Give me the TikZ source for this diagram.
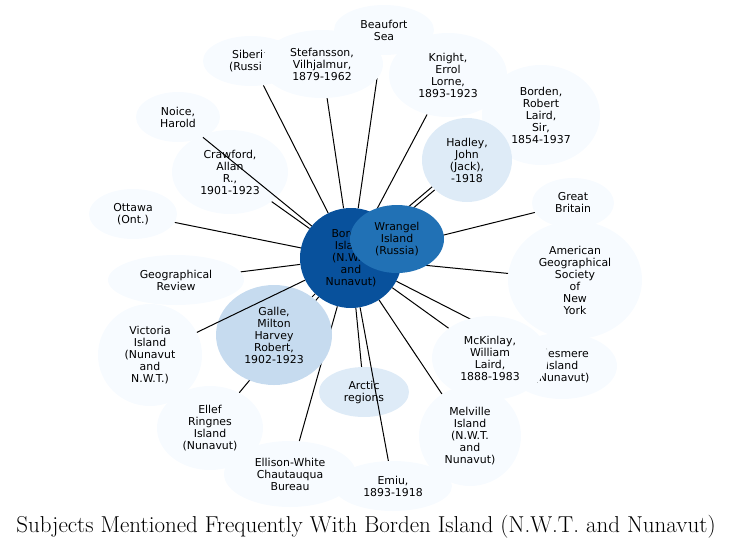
\documentclass[tikz,border=0pt]{standalone}
\usepackage{fontspec}
\newfontfamily\dv{DejaVu Sans}
\usetikzlibrary{shapes.geometric,backgrounds}
\definecolor{b0}{HTML}{F7FBFF}
\definecolor{b1}{HTML}{DEEBF7}
\definecolor{b2}{HTML}{C6DBEF}
\definecolor{b5}{HTML}{2171B5}
\definecolor{b6}{HTML}{08519C}
\tikzset{
  vnode/.style={ellipse, inner sep=0pt, align=center, draw=none,
    font=\dv\fontsize{10.9}{12}\selectfont, text=black},
  lnk/.style={line width=1pt, black}
}
\begin{document}
\begin{tikzpicture}[x=1pt,y=-1pt]
\useasboundingbox (0,0) rectangle (732,547);
% nodes
\node[vnode, fill=b0, minimum width=100, minimum height=50] (beaufort) at (384,30) {Beaufort\\Sea};
\node[vnode, fill=b0, minimum width=96, minimum height=50] (siberia) at (251,61) {Siberia\\(Russia)};
\node[vnode, fill=b0, minimum width=122, minimum height=68] (stef) at (322,64) {Stefansson,\\Vilhjalmur,\\1879-1962};
\node[vnode, fill=b0, minimum width=118, minimum height=100] (robborden) at (541,115) {Borden,\\Robert\\Laird,\\Sir,\\1854-1937};
\node[vnode, fill=b0, minimum width=118, minimum height=84] (knight) at (448,75) {Knight,\\Errol\\Lorne,\\1893-1923};
\node[vnode, fill=b1, minimum width=90, minimum height=84] (hadley) at (467,160) {Hadley,\\John\\(Jack),\\-1918};
\node[vnode, fill=b0, minimum width=84, minimum height=50] (noice) at (178,117) {Noice,\\Harold};
\node[vnode, fill=b0, minimum width=116, minimum height=84] (crawford) at (230,172) {Crawford,\\Allan\\R.,\\1901-1923};
\node[vnode, fill=b0, minimum width=88, minimum height=50] (ottawa) at (133,214) {Ottawa\\(Ont.)};
\node[vnode, fill=b0, minimum width=136, minimum height=50] (geog) at (176,280) {Geographical\\Review};
\node[vnode, fill=b0, minimum width=104, minimum height=102] (victoria) at (150,355) {Victoria\\Island\\(Nunavut\\and\\N.W.T.)};
\node[vnode, fill=b0, minimum width=106, minimum height=84] (ellef) at (210,428) {Ellef\\Ringnes\\Island\\(Nunavut)};
\node[vnode, fill=b2, minimum width=116, minimum height=100] (galle) at (274,335) {Galle,\\Milton\\Harvey\\Robert,\\1902-1923};
\node[vnode, fill=b0, minimum width=132, minimum height=66] (ellison) at (290,474) {Ellison-White\\Chautauqua\\Bureau};
\node[vnode, fill=b0, minimum width=118, minimum height=50] (emiu) at (393,486) {Emiu,\\1893-1918};
\node[vnode, fill=b1, minimum width=90, minimum height=50] (arctic) at (364,392) {Arctic\\regions};
\node[vnode, fill=b0, minimum width=102, minimum height=100] (melville) at (470,436) {Melville\\Island\\(N.W.T.\\and\\Nunavut)};
\node[vnode, fill=b0, minimum width=134, minimum height=118] (ags) at (575,280) {American\\Geographical\\Society\\of\\New\\York};
\node[vnode, fill=b0, minimum width=82, minimum height=50] (gb) at (573,203) {Great\\Britain};
\node[vnode, fill=b0, minimum width=110, minimum height=66] (ellesmere) at (562,366) {Ellesmere\\Island\\(Nunavut)};
\node[vnode, fill=b0, minimum width=116, minimum height=84] (mckinlay) at (490,358) {McKinlay,\\William\\Laird,\\1888-1983};
\node[vnode, fill=b6, minimum width=102, minimum height=100] (borden) at (351,258) {Borden\\Island\\(N.W.T.\\and\\Nunavut)};
\node[vnode, fill=b5, minimum width=94, minimum height=68] (wrangel) at (397,239) {Wrangel\\Island\\(Russia)};
% edges under the nodes
\begin{pgfonlayer}{background}
\draw[lnk] (siberia) -- (borden);
\draw[lnk] (stef) -- (borden);
\draw[lnk] (beaufort) -- (borden);
\draw[lnk] (knight) -- (borden);
\draw[lnk, transform canvas={xshift=1.2pt,yshift=-1.6pt}] (hadley) -- (borden);
\draw[lnk, transform canvas={xshift=-1.2pt,yshift=1.6pt}] (hadley) -- (borden);
\draw[lnk] (gb) -- (borden);
\draw[lnk] (ags) -- (borden);
\draw[lnk] (ellesmere) -- (borden);
\draw[lnk] (mckinlay) -- (borden);
\draw[lnk] (melville) -- (borden);
\draw[lnk] (arctic) -- (borden);
\draw[lnk] (ellison) -- (borden);
\draw[lnk] (ellef) -- (borden);
\draw[lnk] (galle) -- (borden);
\draw[lnk] (crawford) -- (borden);
\draw[lnk] (ottawa) -- (borden);
\draw[lnk] (geog) -- (borden);
\end{pgfonlayer}
% edges over the nodes
\draw[lnk] (noice) -- (borden);
\draw[lnk] (victoria) -- (borden);
\draw[lnk] (emiu) -- (borden);
% title
\node[anchor=base, font=\fontsize{23}{27}\selectfont, inner sep=0pt] (title) at (366,532) {Subjects Mentioned Frequently With Borden Island (N.W.T. and Nunavut)};
\end{tikzpicture}
\end{document}
